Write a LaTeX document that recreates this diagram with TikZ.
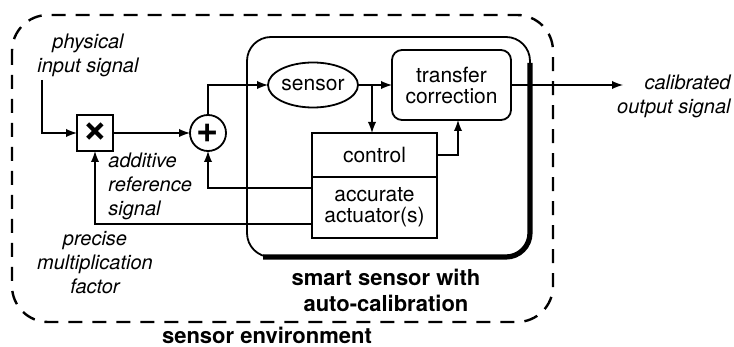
\documentclass[tikz,border=0pt]{standalone}
\usepackage{fontspec}
\setmainfont{TeX Gyre Heros}
\usetikzlibrary{shapes.geometric, positioning}

\tikzset{
    blok/.style={draw, line width=0.9pt, inner sep=0pt, outer sep=0pt, align=center},
    lbl/.style={font=\itshape, align=center, inner sep=0pt},
    bold lbl/.style={font=\bfseries\fontsize{11}{13}\selectfont, align=center, inner sep=0pt},
    sig/.style={->, line width=0.9pt},
}

\begin{document}
\begin{tikzpicture}[>=latex, x=0.5pt, y=-0.5pt, font=\fontsize{10.5}{12.5}\selectfont]
    \useasboundingbox (0,0) rectangle (734,347);

    % 1. Vung moi truong cam bien
    \draw[line width=1.2pt, dash pattern=on 7pt off 5pt, rounded corners=18pt]
        (12,15) rectangle (553,322);
    \node[bold lbl] (envlbl) at (267,335) {sensor environment};

    % 2. Cam bien thong minh
    \node[draw, line width=0.9pt, rounded corners=12pt, outer sep=0pt,
          minimum width=141.5pt, minimum height=110pt] (smart) at (388.5,147) {};
    \draw[line width=2.6pt, rounded corners=12pt]
        ([yshift=-13pt]smart.north east) -- (smart.south east) -- ([xshift=8pt]smart.south west);
    \node[bold lbl] (smartlbl) at (386,290) {smart sensor with\\auto-calibration};

    % 3. Cac khoi
    \node[blok, ellipse, minimum width=45pt, minimum height=22.5pt] (sensor) at (313,85) {sensor};
    \node[blok, rounded corners=5pt, minimum width=59.5pt, minimum height=35pt] (transfer) at (451.5,85) {transfer\\[-2pt]correction};
    \node[blok, minimum width=62.5pt, minimum height=22pt] (control) at (374.5,155) {control};
    \node[blok, minimum width=62.5pt, minimum height=30.5pt] (actuator) at (374.5,207.5) {accurate\\[-2pt]actuator(s)};
    \node[blok, minimum size=18pt] (mult) at (95,133) {\fontsize{22}{22}\selectfont\bfseries ×};
    \node[blok, circle, minimum size=18pt] (adder) at (208,133) {\fontsize{19}{19}\selectfont\bfseries +};

    % 4. Nhan
    \node[lbl] (inlbl) at (88,55) {physical\\input signal};
    \node[lbl, align=left, anchor=west] (addlbl) at (108,186) {additive\\reference\\signal};
    \node[lbl] (multlbl) at (95,263) {precise\\multiplication\\factor};
    \node[lbl, align=right, anchor=east] (outlbl) at (731,96) {calibrated\\output signal};

    % 5. Duong tin hieu
    \coordinate (in) at (42,80);
    \coordinate (br) at (372,85);
    \coordinate (out) at (623,85);
    \draw[sig] (in) |- (mult.west);
    \draw[sig] (mult) -- (adder);
    \draw[sig] (adder.north) |- (sensor.west);
    \draw[sig] (sensor.east) -- (transfer.west);
    \draw[sig] (br) -- (br |- control.north);
    \draw[sig] (control.east) -| ([xshift=3.25pt]transfer.south);
    \draw[sig] (transfer.east) -- (out);
    \draw[sig] ([yshift=9.75pt]actuator.west) -| (adder.south);
    \draw[sig] ([yshift=-8.25pt]actuator.west) -| (mult.south);

\end{tikzpicture}
\end{document}
